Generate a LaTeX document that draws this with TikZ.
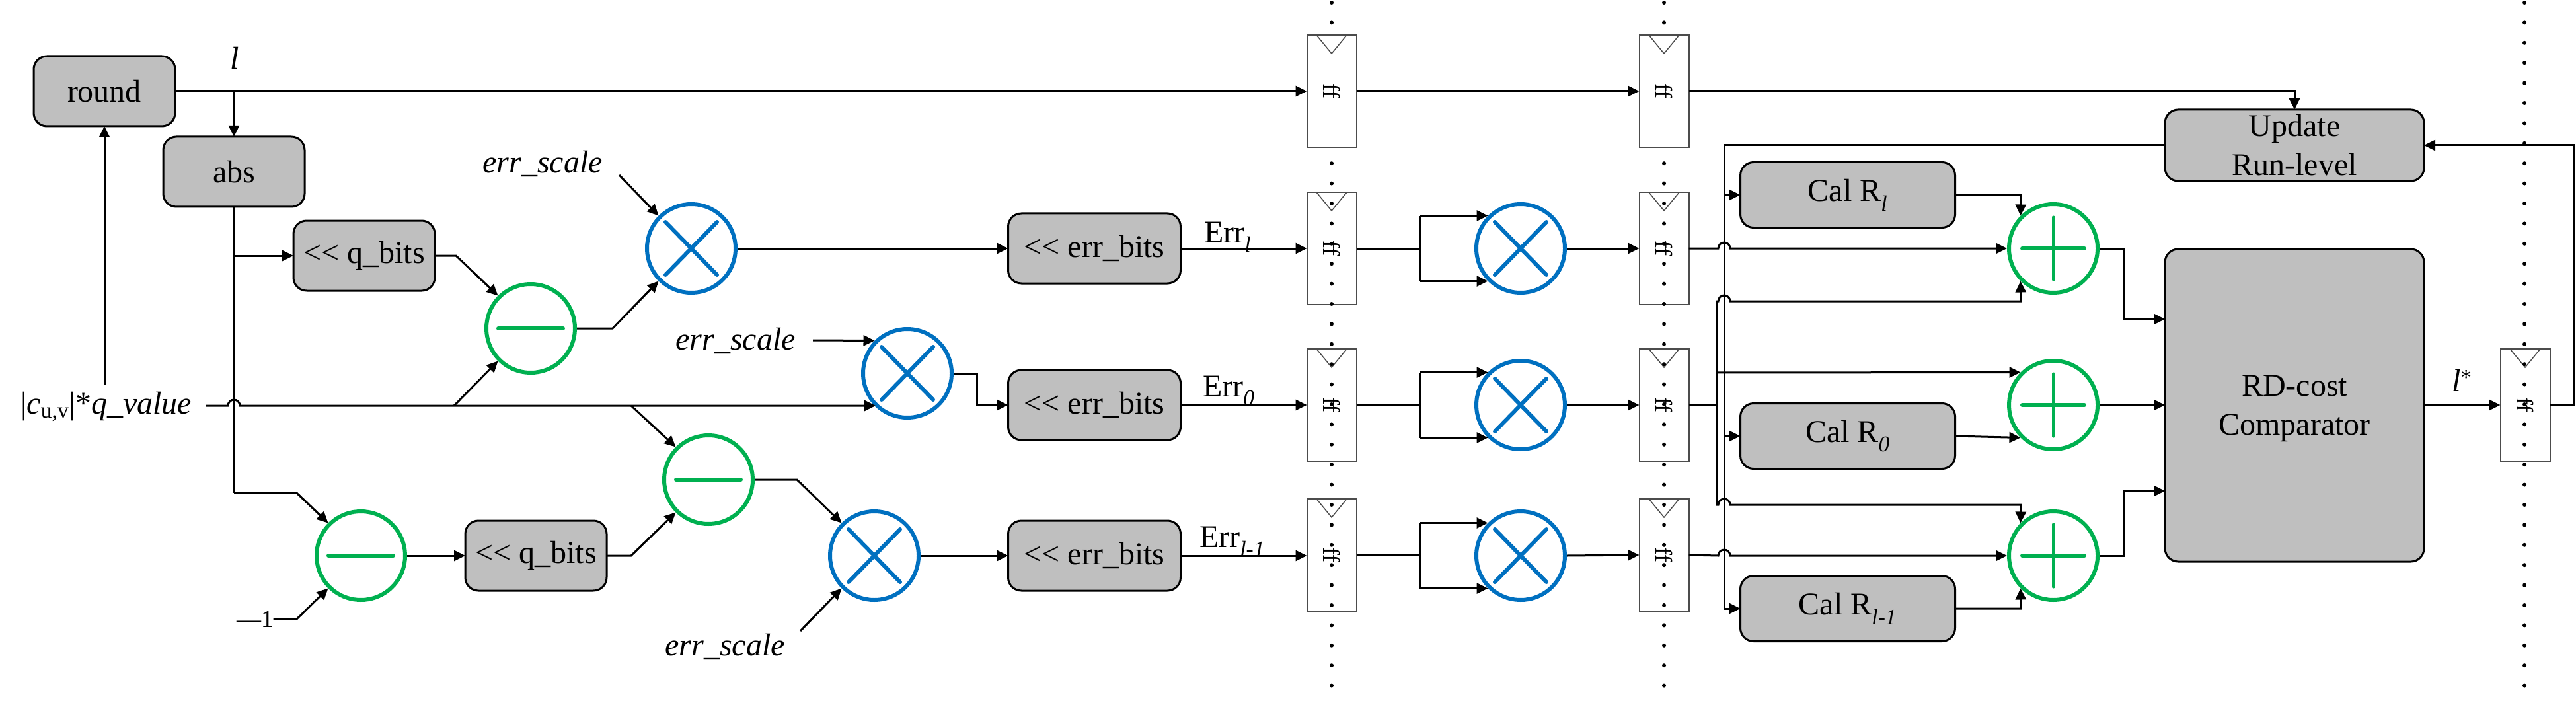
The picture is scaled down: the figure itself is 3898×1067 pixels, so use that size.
\documentclass[tikz,border=0pt]{standalone}
\usepackage{graphicx}
\usepackage{fontspec}
\setmainfont{Liberation Serif}
\usetikzlibrary{arrows.meta}
\definecolor{boxgray}{HTML}{BFBFBF}
\definecolor{opblue}{HTML}{0070C0}
\definecolor{opgreen}{HTML}{00B050}
\tikzset{
  txt/.style={font=\fontsize{48}{59}\selectfont,inner sep=0pt,outer sep=0pt,align=center},
  gbox/.style={txt,draw=black,fill=boxgray,line width=3pt,rounded corners=20pt},
  small/.style={gbox,minimum width=214pt,minimum height=106pt},
  errbox/.style={gbox,minimum width=261pt,minimum height=106pt},
  calbox/.style={gbox,minimum width=325pt,minimum height=99pt},
  ffbox/.style={draw=black!70,fill=white,line width=2pt,minimum width=75pt,minimum height=170pt,inner sep=0pt,outer sep=0pt,font=\fontsize{36}{40}\selectfont},
  mulop/.style={circle,draw=opblue,fill=white,line width=6pt,minimum size=134pt,inner sep=0pt,outer sep=3pt},
  subop/.style={circle,draw=opgreen,fill=white,line width=6pt,minimum size=134pt,inner sep=0pt,outer sep=3pt},
  conn/.style={line width=3pt,-{Triangle[length=17pt,width=16pt]}},
  plainconn/.style={line width=3pt},
  sym/.style={line width=6pt,line cap=round}
}
\newcommand{\ffmark}{\rotatebox{-90}{ff}}
\begin{document}
\begin{tikzpicture}[x=1pt,y=-1pt]
\useasboundingbox (0,0) rectangle (3898,1067);
% registers
\node[ffbox] (f11) at (2015,138) {\ffmark};
\node[ffbox] (f12) at (2518,138) {\ffmark};
\node[ffbox] (f21) at (2015,376) {\ffmark};
\node[ffbox] (f22) at (2518,376) {\ffmark};
\node[ffbox] (f31) at (2015,613) {\ffmark};
\node[ffbox] (f32) at (2518,613) {\ffmark};
\node[ffbox] (f41) at (2015,840) {\ffmark};
\node[ffbox] (f42) at (2518,840) {\ffmark};
\node[ffbox] (f5) at (3821,613) {\ffmark};
\foreach \n in {f11,f12,f21,f22,f31,f32,f41,f42,f5}
  \draw[black!70,line width=1.5pt] ([xshift=-23pt]\n.north) -- ([yshift=-28pt]\n.north) -- ([xshift=23pt]\n.north);
% pipeline dots
\foreach \k in {0,1,8,9,...,34}{
  \fill (2015,4+30.4*\k) circle[radius=3pt];
  \fill (2518,4+30.4*\k) circle[radius=3pt];
}
\foreach \k in {0,1,...,34}
  \fill (3820,4+30.4*\k) circle[radius=3pt];
% blocks
\node[small] (round) at (158,138) {round};
\node[small] (abs) at (354,260) {abs};
\node[small] (q1) at (551,387) {<{}< q\_bits};
\node[small] (q2) at (811,841) {<{}< q\_bits};
\node[errbox] (e1) at (1656,376) {<{}< err\_bits};
\node[errbox] (e2) at (1656,613) {<{}< err\_bits};
\node[errbox] (e3) at (1656,841) {<{}< err\_bits};
\node[calbox] (c1) at (2796,295) {Cal R\textsubscript{\textit{l}}};
\node[calbox] (c2) at (2796,660) {Cal R\textsubscript{\textit{0}}};
\node[calbox] (c3) at (2796,921) {Cal R\textsubscript{\textit{l-1}}};
\node[gbox,minimum width=392pt,minimum height=108pt] (upd) at (3472,220) {Update\\Run-level};
\node[gbox,minimum width=392pt,minimum height=473pt] (rd) at (3472,613.5) {};
\node[txt] (rdt) at (3472,618) {RD-cost\\Comparator};
% operators
\node[subop] (s1) at (803,497) {};
\node[subop] (s2) at (1072,726) {};
\node[subop] (s3) at (546,841) {};
\node[mulop] (m1) at (1046,376) {};
\node[mulop] (m2) at (1373,565) {};
\node[mulop] (m3) at (1323,841) {};
\node[mulop] (m4) at (2301,376) {};
\node[mulop] (m5) at (2301,613) {};
\node[mulop] (m6) at (2301,841) {};
\node[subop] (a1) at (3107,376) {};
\node[subop] (a2) at (3107,613) {};
\node[subop] (a3) at (3107,841) {};
\foreach \n in {s1,s2,s3}
  \draw[opgreen,sym] ([xshift=-49pt]\n.center) -- ([xshift=49pt]\n.center);
\foreach \n in {m1,m2,m3,m4,m5,m6}{
  \draw[opblue,sym] ([shift={(-39pt,-40pt)}]\n.center) -- ([shift={(39pt,40pt)}]\n.center);
  \draw[opblue,sym] ([shift={(-39pt,40pt)}]\n.center) -- ([shift={(39pt,-40pt)}]\n.center);
}
\foreach \n in {a1,a2,a3}{
  \draw[opgreen,sym] ([xshift=-47pt]\n.center) -- ([xshift=47pt]\n.center);
  \draw[opgreen,line width=5pt,line cap=round] ([yshift=-47pt]\n.center) -- ([yshift=47pt]\n.center);
}
% labels
\node[txt] (lbl) at (355,88) {\textit{l}};
\node[txt,anchor=base] (es1) at (821,262) {\textit{err\_scale}};
\node[txt,anchor=base] (es2) at (1113,529) {\textit{err\_scale}};
\node[txt,anchor=base] (es3) at (1097,992) {\textit{err\_scale}};
\node[txt,anchor=base west] (inp) at (31,626) {|\textit{c}\textsubscript{u,v}|*\textit{q\_value}};
\node[txt,anchor=base west,font=\fontsize{37}{40}\selectfont] (mone) at (358,949) {—1};
\node[txt,anchor=base west] (er1) at (1822,367) {Err\textsubscript{\textit{l}}};
\node[txt,anchor=base west] (er2) at (1820,600) {Err\textsubscript{\textit{0}}};
\node[txt,anchor=base west] (er3) at (1815,828) {Err\textsubscript{\textit{l-1}}};
\node[txt,anchor=base west] (ls) at (3710,592) {\textit{l}\textsuperscript{*}};
% free ends
\coordinate (inS) at (311,614);
\coordinate (inUp) at (158,583);
\coordinate (j0) at (345,614);
\coordinate (br1) at (687,614);
\coordinate (br2) at (955,614);
\coordinate (es1e) at (937,265);
\coordinate (es2e) at (1230,515);
\coordinate (es3e) at (1211,955);
\coordinate (moneE) at (449,937);
\coordinate (absD) at (354,746);
\coordinate (absK) at (449,746);
\coordinate (v1) at (2609,220);
\coordinate (v2) at (2609,921);
\coordinate (bus) at (2597,613);
\coordinate (fb) at (3895,613);
\coordinate (fb2) at (3895,220);
% top line
\draw[conn] (round.east) -- (f11.west);
\draw[conn] (f11.east) -- (f12.west);
\draw[conn] (f12.east) -- (3472,138) -- (upd.north);
\draw[conn] (354,138) -- (abs.north);
\draw[conn] (inUp) -- (round.south);
% abs branches
\draw[plainconn] (abs.south) -- (absD);
\draw[conn] (354,387) -- (q1.west);
\draw[conn] (absD) -- (absK) -- (s3.135);
\draw[conn] (mone.east |- moneE) -- (moneE) -- (s3.225);
\draw[conn] (s3.east) -- (q2.west);
\draw[conn] (q2.east) -- (br2 |- q2.east) -- (s2.225);
\draw[conn] (q1.east) -- (690,387) -- (s1.135);
\draw[conn] (s1.east) -- (927,497) -- (m1.225);
\draw[conn] (es1e) -- (m1.135);
\draw[conn] (m1.east) -- (e1.west);
% input bus
\draw[conn] (inS) -- (j0) arc[start angle=180,end angle=0,radius=9pt] -- (1325,614);
\draw[conn] (br1) -- (s1.225);
\draw[conn] (br2) -- (s2.135);
\draw[conn] (es2e) -- (m2.135);
\draw[conn] (m2.east) -- (1478,565) -- (1478,613) -- (e2.west);
\draw[conn] (s2.east) -- (1206,726) -- (m3.135);
\draw[conn] (es3e) -- (m3.225);
\draw[conn] (m3.east) -- (e3.west);
% into registers
\draw[conn] (e1.east) -- (f21.west);
\draw[conn] (e2.east) -- (f31.west);
\draw[conn] (e3.east) -- (f41.west |- e3.east);
% squarers
\foreach \f/\m/\g in {f21/m4/f22,f31/m5/f32,f41/m6/f42}{
  \draw[plainconn] (\f.east) -- (2148,0 |- \f.east);
  \draw[conn] (2148,0 |- \m.135) -- (\m.135);
  \draw[conn] (2148,0 |- \m.225) -- (\m.225);
  \draw[plainconn] (2148,0 |- \m.135) -- (2148,0 |- \m.225);
  \draw[conn] (\m.east) -- (\g.west);
}
% rate bus
\draw[plainconn] (upd.west) -- (v1) -- (v2);
\draw[conn] (2609,295) -- (c1.west);
\draw[conn] (2609,660) -- (c2.west);
\draw[conn] (v2) -- (c3.west);
\draw[conn] (c1.east) -- (3058,295) -- (a1.135);
\draw[conn] (c2.east) -- (a2.225);
\draw[conn] (c3.east) -- (3058,921) -- (a3.225);
% distortion paths
\draw[conn] (f22.east) -- (2600,376) arc[start angle=180,end angle=0,radius=9pt] -- (a1.west);
\draw[conn] (f42.east) -- (2600,841) arc[start angle=180,end angle=0,radius=9pt] -- (a3.west);
\draw[plainconn] (f32.east) -- (bus);
\draw[conn] (2597,564) -- (a2.135);
\draw[conn] (2597,456) -- (2600,456) arc[start angle=180,end angle=0,radius=9pt] -- (3058,456) -- (a1.225);
\draw[conn] (2597,764) -- (2600,764) arc[start angle=180,end angle=0,radius=9pt] -- (3058,764) -- (a3.135);
\draw[plainconn] (2597,456) -- (2597,764);
% comparator
\draw[conn] (a1.east) -- (3213,376) -- (3213,483) -- (3276,483);
\draw[conn] (a2.east) -- (3276,613);
\draw[conn] (a3.east) -- (3213,841) -- (3213,743) -- (3276,743);
\draw[conn] (3668,613) -- (f5.west);
\draw[conn] (f5.east) -- (fb) -- (fb2) -- (upd.east);
\end{tikzpicture}
\end{document}
